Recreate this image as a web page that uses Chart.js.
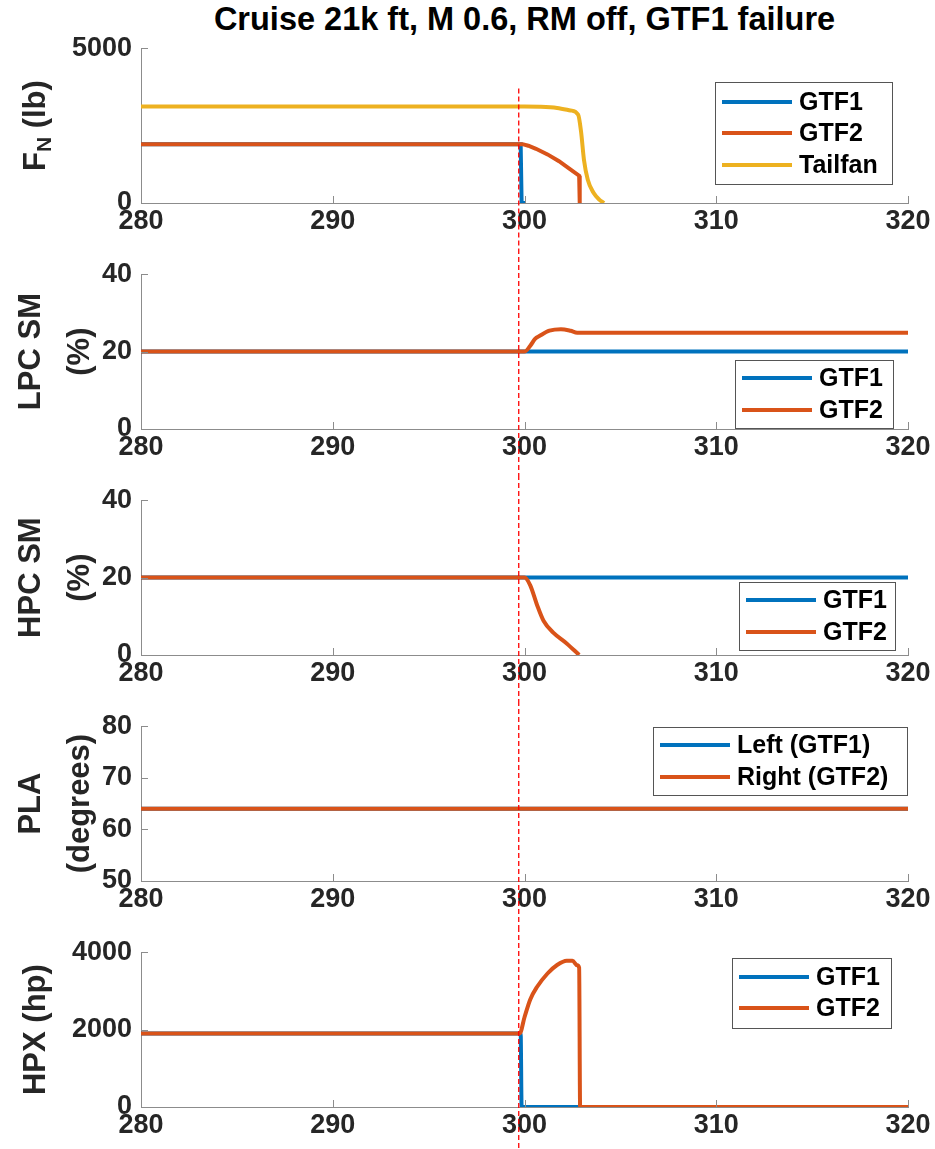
<!DOCTYPE html>
<html>
<head>
<meta charset="utf-8">
<title>Cruise 21k ft, M 0.6, RM off, GTF1 failure</title>
<script src="https://cdn.jsdelivr.net/npm/chart.js@4.4.1/dist/chart.umd.min.js"></script>
<style>
  body { margin: 0; background: #fff; width: 935px; height: 1149px; overflow: hidden; position: relative; }
  #title { position: absolute; left: 141px; width: 767px; top: 0px; text-align: center; white-space: nowrap;
           font: bold 32.5px "Liberation Sans", Arial, sans-serif; color: #000; line-height: 38px; }
  canvas { position: absolute; left: 0; }
</style>
</head>
<body>
<div id="title">Cruise 21k ft, M 0.6, RM off, GTF1 failure</div>
<canvas id="fn" width="935" height="226" style="top:23px"></canvas>
<canvas id="lpc" width="935" height="226" style="top:249px"></canvas>
<canvas id="hpc" width="935" height="226" style="top:475px"></canvas>
<canvas id="pla" width="935" height="226" style="top:701px"></canvas>
<canvas id="hpx" width="935" height="226" style="top:927px"></canvas>
<script>
// time axis (s)
const xTicks = [280, 290, 300, 310, 320];
const failTime = 299.7;

// net thrust F_N (lb), points are [time, value]
const fnTicks = [0, 5000];
const fnGtf1 = [[280, 1900], [299.8, 1900], [299.85, 0], [300.05, 0]];
const fnGtf2 = [[280, 1900], [299.9, 1900], [300.2, 1850], [300.6, 1750], [301.2, 1570],
                [301.8, 1350], [302.3, 1130], [302.85, 880], [302.88, 0]];
const fnTailfan = [[280, 3120], [300, 3120], [300.8, 3110], [301.7, 3070], [302.4, 2990],
                   [302.8, 2850], [302.95, 2300], [303.1, 1400], [303.3, 750], [303.6, 330],
                   [303.9, 110], [304.15, 0]];

// LPC stall margin (%)
const lpcTicks = [0, 20, 40];
const lpcGtf1 = [[280, 20], [320, 20]];
const lpcGtf2 = [[280, 20], [300.0, 20], [300.3, 21.5], [300.55, 23.3], [300.8, 24.1],
                 [301.3, 25.4], [301.9, 25.8], [302.4, 25.4], [302.75, 24.9], [320, 24.9]];

// HPC stall margin (%)
const hpcTicks = [0, 20, 40];
const hpcGtf1 = [[280, 20], [320, 20]];
const hpcGtf2 = [[280, 20], [300.0, 20], [300.3, 18], [300.65, 13], [301.0, 8.8],
                 [301.5, 5.8], [302.2, 3], [302.85, 0]];

// power lever angle (degrees)
const plaTicks = [50, 60, 70, 80];
const plaLeft = [[280, 64], [320, 64]];
const plaRight = [[280, 64], [320, 64]];

// power extraction HPX (hp)
const hpxTicks = [0, 2000, 4000];
const hpxGtf1 = [[280, 1900], [299.8, 1900], [299.85, 0], [320, 0]];
const hpxGtf2 = [[280, 1900], [299.75, 1900], [300.0, 2320], [300.3, 2780], [300.65, 3100],
                 [301.2, 3450], [301.7, 3670], [302.2, 3780], [302.5, 3780], [302.75, 3660],
                 [302.85, 3600], [302.9, 0], [320, 0]];

const BLUE = '#0072BD', ORANGE = '#D95319', YELLOW = '#EDB120';
const FONT = '"Liberation Sans", Arial, sans-serif';
const AXIS = '#8c8c8c';
const INK = '#262626';

function series(label, pts, color, straight) {
  return {
    label: label,
    data: pts.map(p => ({ x: p[0], y: p[1] })),
    borderColor: color,
    backgroundColor: color,
    borderWidth: 4,
    pointRadius: 0,
    fill: false,
    tension: 0,
    cubicInterpolationMode: straight ? 'default' : 'monotone'
  };
}

// axis ticks (inward), rotated y label, boxed legend and the failure marker
const panelDecor = {
  id: 'panelDecor',
  afterDraw(chart, args, opts) {
    const ctx = chart.ctx, a = chart.chartArea, x = chart.scales.x, y = chart.scales.y;
    ctx.save();

    ctx.strokeStyle = AXIS;
    ctx.lineWidth = 1;
    ctx.beginPath();
    x.ticks.forEach(t => {
      const px = Math.round(x.getPixelForValue(t.value)) + 0.5;
      ctx.moveTo(px, a.bottom);
      ctx.lineTo(px, a.bottom - 7);
    });
    y.ticks.forEach(t => {
      const py = Math.round(y.getPixelForValue(t.value)) + 0.5;
      ctx.moveTo(a.left, py);
      ctx.lineTo(a.left + 7, py);
    });
    ctx.stroke();

    // y axis title
    const cy = (a.top + a.bottom) / 2;
    ctx.fillStyle = INK;
    ctx.textBaseline = 'middle';
    ctx.textAlign = 'left';
    opts.yTitle.forEach((segs, i) => {
      ctx.save();
      ctx.translate(opts.titleX[i], cy);
      ctx.rotate(-Math.PI / 2);
      let w = 0;
      segs.forEach(s => {
        ctx.font = 'bold ' + (s.sub ? 21 : 31) + 'px ' + FONT;
        w += ctx.measureText(s.t).width;
      });
      let px = -w / 2;
      segs.forEach(s => {
        ctx.font = 'bold ' + (s.sub ? 21 : 31) + 'px ' + FONT;
        ctx.fillText(s.t, px, s.sub ? 9 : 0);
        px += ctx.measureText(s.t).width;
      });
      ctx.restore();
    });

    // legend
    const L = opts.legend;
    ctx.fillStyle = '#fff';
    ctx.fillRect(L.x, L.y, L.w, L.h);
    ctx.strokeStyle = '#555';
    ctx.lineWidth = 1;
    ctx.strokeRect(L.x + 0.5, L.y + 0.5, L.w, L.h);
    ctx.font = 'bold 25px ' + FONT;
    chart.data.datasets.forEach((d, i) => {
      const ry = L.y + L.rows[i];
      ctx.strokeStyle = d.borderColor;
      ctx.lineWidth = 4;
      ctx.beginPath();
      ctx.moveTo(L.x + 7, ry);
      ctx.lineTo(L.x + 77, ry);
      ctx.stroke();
      ctx.fillStyle = '#000';
      ctx.fillText(d.label, L.x + 84, ry + 1);
    });

    // failure time marker
    const fx = x.getPixelForValue(failTime);
    const top = opts.markFrom == null ? 0 : y.getPixelForValue(opts.markFrom);
    ctx.strokeStyle = '#ff0000';
    ctx.lineWidth = 1.3;
    ctx.setLineDash([5, 3]);
    ctx.beginPath();
    ctx.moveTo(fx, top);
    ctx.lineTo(fx, chart.height);
    ctx.stroke();

    ctx.restore();
  }
};

function makeChart(id, datasets, yMin, yMax, yTicks, deco) {
  datasets.forEach((d, i) => { d.order = datasets.length - 1 - i; });
  const tickFont = { family: FONT, size: 27, weight: 'bold' };
  return new Chart(document.getElementById(id), {
    type: 'line',
    data: { datasets: datasets },
    options: {
      responsive: false,
      animation: false,
      events: [],
      layout: { padding: { top: 20, right: 27, left: 0, bottom: 0 } },
      plugins: { legend: { display: false }, tooltip: { enabled: false }, panelDecor: deco },
      scales: {
        x: {
          type: 'linear', min: 280, max: 320,
          afterBuildTicks: s => { s.ticks = xTicks.map(v => ({ value: v })); },
          afterFit: s => { s.height = 46; },
          grid: { display: true, drawOnChartArea: false, drawTicks: false },
          border: { display: true, color: AXIS, width: 1 },
          ticks: { font: tickFont, color: INK, padding: 2, maxRotation: 0, autoSkip: false,
                   callback: v => String(v) }
        },
        y: {
          type: 'linear', min: yMin, max: yMax,
          afterBuildTicks: s => { s.ticks = yTicks.map(v => ({ value: v })); },
          afterFit: s => { s.width = 141; },
          grid: { display: true, drawOnChartArea: false, drawTicks: false },
          border: { display: true, color: AXIS, width: 1 },
          ticks: { font: tickFont, color: INK, padding: 9, autoSkip: false,
                   callback: v => String(v) }
        }
      }
    },
    plugins: [panelDecor]
  });
}

makeChart('fn',
  [series('GTF1', fnGtf1, BLUE, true), series('GTF2', fnGtf2, ORANGE, true),
   series('Tailfan', fnTailfan, YELLOW)],
  0, 5000, fnTicks,
  { yTitle: [[{ t: 'F' }, { t: 'N', sub: true }, { t: ' (lb)' }]], titleX: [36],
    legend: { x: 715, y: 59, w: 177, h: 102, rows: [20, 51, 83] }, markFrom: 3700 });

makeChart('lpc',
  [series('GTF1', lpcGtf1, BLUE), series('GTF2', lpcGtf2, ORANGE)],
  0, 40, lpcTicks,
  { yTitle: [[{ t: 'LPC SM' }], [{ t: '(%)' }]], titleX: [31, 80],
    legend: { x: 735, y: 111, w: 158, h: 68, rows: [18, 50] } });

makeChart('hpc',
  [series('GTF1', hpcGtf1, BLUE), series('GTF2', hpcGtf2, ORANGE)],
  0, 40, hpcTicks,
  { yTitle: [[{ t: 'HPC SM' }], [{ t: '(%)' }]], titleX: [31, 80],
    legend: { x: 739, y: 107, w: 156, h: 68, rows: [18, 50] } });

makeChart('pla',
  [series('Left (GTF1)', plaLeft, BLUE), series('Right (GTF2)', plaRight, ORANGE)],
  50, 80, plaTicks,
  { yTitle: [[{ t: 'PLA' }], [{ t: '(degrees)' }]], titleX: [31, 80],
    legend: { x: 653, y: 26, w: 254, h: 68, rows: [18, 50] } });

makeChart('hpx',
  [series('GTF1', hpxGtf1, BLUE), series('GTF2', hpxGtf2, ORANGE)],
  0, 4000, hpxTicks,
  { yTitle: [[{ t: 'HPX (hp)' }]], titleX: [36],
    legend: { x: 732, y: 31, w: 159, h: 70, rows: [19, 50] } });
</script>
</body>
</html>
